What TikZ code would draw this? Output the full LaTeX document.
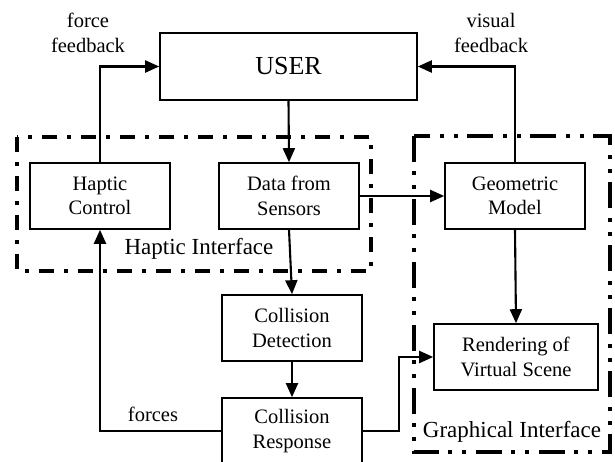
\documentclass[tikz,border=0pt]{standalone}
\usepackage{fontspec}
\setmainfont{Liberation Serif}
\usetikzlibrary{arrows.meta}
\begin{document}
\begin{tikzpicture}[x=1pt,y=-1pt,
  blk/.style={draw,line width=1.6pt,minimum width=140pt,minimum height=66pt,align=center,inner sep=0pt,font=\fontsize{20.5}{24.5}\selectfont},
  lbl/.style={align=center,inner sep=0pt,font=\fontsize{20.5}{24.5}\selectfont},
  big/.style={inner sep=0pt,font=\fontsize{23}{27}\selectfont},
  conn/.style={line width=2.1pt,-{Triangle[length=14pt,width=12pt]}},
  hapbox/.style={line width=3.5pt,dash pattern=on 15pt off 10pt on 4pt off 10pt},
  grabox/.style={line width=3.5pt,dash pattern=on 26pt off 9pt on 4pt off 10pt on 4pt off 10pt}]
\useasboundingbox (0,0) rectangle (615,461);
\clip (0,0) rectangle (615,461);
\draw[hapbox] (17,137) rectangle (371,271);
\draw[grabox] (414,136) rectangle (610,452);
\node[blk,minimum width=257pt,minimum height=67pt,font=\fontsize{26}{30}\selectfont] (user) at (288.5,66.5) {USER};
\node[blk] (hc) at (100,196) {Haptic\\Control};
\node[blk] (ds) at (289,196) {Data from\\Sensors};
\node[blk] (gm) at (515,196) {Geometric\\Model};
\node[blk] (cd) at (292,328) {Collision\\Detection};
\node[blk] (cr) at (292,431) {Collision\\Response};
\node[blk,minimum width=164pt] (rs) at (516,357) {Rendering of\\Virtual Scene};
\node[lbl] (ff) at (88,33) {force\\feedback};
\node[lbl] (vf) at (491,33) {visual\\feedback};
\node[lbl] (fo) at (153,414) {forces};
\node[big] (hi) at (199,249) {Haptic Interface};
\node[big] (gi) at (512,432) {Graphical Interface};
\draw[conn] (hc.north) |- (user.west);
\draw[conn] (gm.north) |- (user.east);
\draw[conn] (user.south) -- (ds.north);
\draw[conn] (ds.east) -- (gm.west);
\draw[conn] (ds.south) -- (cd.north);
\draw[conn] (cd.south) -- (cr.north);
\draw[conn] (cr.west) -| (hc.south);
\draw[conn] (cr.east) -- ++(36,0) |- (rs.west);
\draw[conn] (gm.south) -- (rs.north);
\end{tikzpicture}
\end{document}
